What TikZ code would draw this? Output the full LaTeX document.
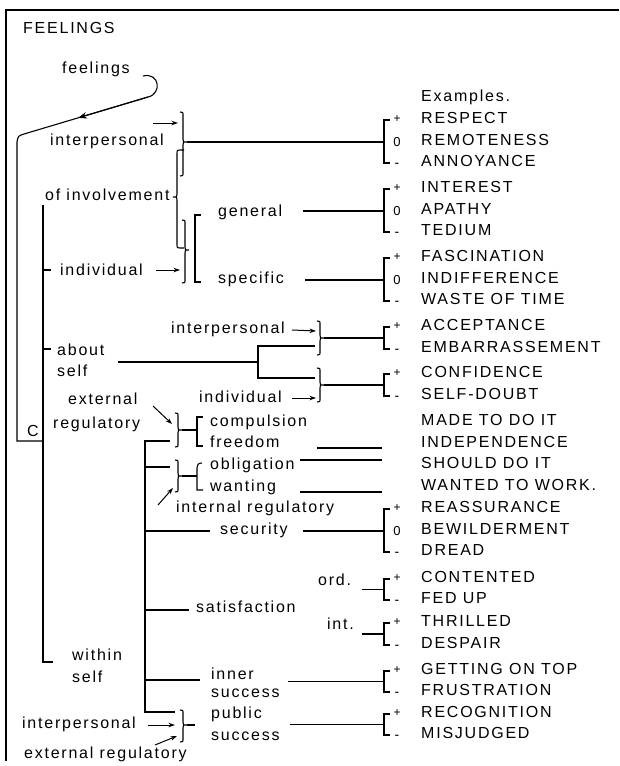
\documentclass[tikz,border=0pt]{standalone}
\usepackage{fontspec}
\setmainfont{Liberation Sans}[LetterSpace=11]
\usetikzlibrary{arrows.meta}

% right-facing curly brace: x, top, bottom, tip
\newcommand\BraceR[4]{%
  \draw[ln] ({#1-3},#2) .. controls (#1,#2) .. (#1,{#2+4}) -- (#1,{#4-3})
    .. controls (#1,#4) .. ({#1+4},#4) .. controls (#1,#4) .. (#1,{#4+3})
    -- (#1,{#3-4}) .. controls (#1,#3) .. ({#1-3},#3);}
% square bracket opening to the right: x, top, bottom
\newcommand\SqBr[3]{\draw[ln] ({#1+6},#2) -- (#1,#2) -- (#1,#3) -- ({#1+6},#3);}
% three-way example bracket (+ / 0 / -): name, row1, row2, row3
\newcommand\TriGrp[4]{%
  \draw[ln] (390,{#2+2}) -- (384,{#2+2}) -- (384,{#4+2}) -- (390,{#4+2});
  \coordinate (#1) at (384,{#3+2});
  \node[plus] (#1p) at (397,{#2+1}) {+};
  \node[sym] (#1o) at (397,{#3+2}) {0};
  \node[minus] (#1m) at (397,{#4+2}) {-};}
% two-way example bracket (+ / -): name, row1, row2
\newcommand\DuoGrp[3]{%
  \draw[ln] (390,{#2+2}) -- (384,{#2+2}) -- (384,{#3+2}) -- (390,{#3+2});
  \coordinate (#1) at (384,{(#2+#3)/2+2});
  \node[plus] (#1p) at (397,{#2+1}) {+};
  \node[minus] (#1m) at (397,{#3+2}) {-};}

\begin{document}
\begin{tikzpicture}[x=1pt,y=-1pt,
  ln/.style={line width=1.1pt},
  frame/.style={line width=1.5pt},
  arr/.style={line width=1pt,-{Stealth[length=6.5pt,width=4.5pt]}},
  bigarr/.style={line width=1.1pt,-{Stealth[length=9pt,width=6.5pt]}},
  txt/.style={inner sep=0pt,anchor=west,text height=11.4pt,text depth=0pt,
    font=\fontsize{16}{19}\selectfont},
  sym/.style={inner sep=0pt,font=\fontsize{13}{15}\selectfont},
  plus/.style={inner sep=0pt,font=\fontsize{12}{14}\selectfont},
  minus/.style={inner sep=0pt,font=\fontsize{14}{16}\selectfont,yshift=-2pt},
]
\useasboundingbox (0,0) rectangle (619,766);

% frame
\coordinate (fTL) at (6,10);
\coordinate (fTR) at (619,10);
\coordinate (fBL) at (6,761);
\draw[frame] (fTR) -- (fTL) -- (fBL);

\node[txt] (title) at (23,28) {FEELINGS};
\node[txt] (feel) at (62,68) {feelings};

% hook from "feelings" down to the main stem
\coordinate (h0) at (143,76);
\coordinate (h1) at (148,97);
\coordinate (hA) at (78,117.9);
\coordinate (c0) at (17,142);
\coordinate (cB) at (17,441);
\coordinate (cE) at (43,441);
\draw[ln] (h0) .. controls (160,72) and (162,94) .. (h1) -- (24,134)
  .. controls (18,136) .. (c0) -- (cB) -- (cE);
\draw[bigarr] (h1) -- (hA);
\node[txt] (cl) at (27,431) {C};

% second stem
\coordinate (v1t) at (43,205);
\coordinate (v1b) at (43,662);
\coordinate (v1e) at (53,662);
\draw[ln] (v1t) -- (v1b) -- (v1e);
\coordinate (t1) at (43,270);
\coordinate (t2) at (43,349);
\draw[ln] (t1) -- (51,270);
\draw[ln] (t2) -- (51,349);

% ---- of involvement
\node[txt] (ip1) at (50,140) {interpersonal};
\node[txt] (inv) at (45,195) {of involvement};
\node[txt] (ind1) at (60,270) {individual};
\node[txt] (gen) at (218,211) {general};
\node[txt] (spe) at (218,278) {specific};
\coordinate (a1s) at (153,123);
\coordinate (a1e) at (178,123);
\draw[arr] (a1s) -- (a1e);
\coordinate (a2s) at (156,270);
\coordinate (a2e) at (180,270);
\draw[arr] (a2s) -- (a2e);
\BraceR{183}{112}{176}{142}
\draw[ln] (184,150) -- (180,150) .. controls (177,150) .. (177,153) -- (177,194)
  .. controls (177,197) .. (173,197) .. controls (177,197) .. (177,200)
  -- (177,245) .. controls (177,248) .. (180,248) -- (184,248);
\BraceR{185}{220}{283}{250}
\SqBr{195}{215}{282}

% ---- about self
\node[txt] (ab) at (57,350) {about};
\node[txt] (sf1) at (57,371) {self};
\coordinate (as0) at (118,362);
\coordinate (as1) at (258,362);
\draw[ln] (as0) -- (as1);
\draw[ln] (315,346) -- (258,346) -- (258,378) -- (315,378);
\node[txt] (ip2) at (171,328) {interpersonal};
\node[txt] (ind2) at (199,397) {individual};
\coordinate (a3s) at (292,330);
\coordinate (a3e) at (316,331);
\draw[arr] (a3s) -- (a3e);
\coordinate (a4s) at (292,398);
\coordinate (a4e) at (316,398);
\draw[arr] (a4s) -- (a4e);
\BraceR{320}{321}{355}{338}
\BraceR{320}{368}{402}{385}

% ---- within self
\node[txt] (er1) at (68,399) {external};
\node[txt] (er2) at (53,423) {regulatory};
\coordinate (a5s) at (153,406);
\coordinate (a5e) at (172,424);
\draw[arr] (a5s) -- (a5e);
\BraceR{178}{413}{447}{430}
\draw[ln] (182,430) -- (197,430);
\SqBr{197}{417}{446}
\node[txt] (comp) at (210,421) {compulsion};
\node[txt] (free) at (210,442) {freedom};

\coordinate (w0) at (145,441);
\coordinate (w1) at (145,712);
\draw[ln] (170,441) -- (w0) -- (w1) -- (175,712);
\draw[ln] (145,467) -- (170,467);
\BraceR{178}{460}{492}{476}
\draw[ln] (182,476) -- (197,476);
\draw[ln] (202,463) .. controls (198,463) and (197,465) .. (197,468) -- (197,490) -- (203,490);
\node[txt] (obl) at (210,464) {obligation};
\node[txt] (want) at (210,486) {wanting};
\coordinate (a6s) at (158,505);
\coordinate (a6e) at (173,488);
\draw[arr] (a6s) -- (a6e);
\node[txt] (intreg) at (176,507) {internal regulatory};

\draw[ln] (317,448) -- (382,448);
\draw[ln] (300,460) -- (382,460);
\draw[ln] (300,492) -- (382,492);

\draw[ln] (145,531) -- (210,531);
\node[txt] (sec) at (220,529) {security};
\draw[ln] (145,610) -- (189,610);
\node[txt] (sat) at (196,607) {satisfaction};
\node[txt] (ord) at (318,580) {ord.};
\node[txt] (intl) at (327,624) {int.};
\draw[ln] (145,680) -- (200,680);
\node[txt] (inn) at (211,674) {inner};
\node[txt] (suc1) at (211,692) {success};
\node[txt] (pub) at (211,713) {public};
\node[txt] (suc2) at (211,735) {success};
\BraceR{183}{710}{742}{725}
\draw[ln] (187,725) -- (195,725);
\node[txt] (ip3) at (22,723) {interpersonal};
\coordinate (a7s) at (148,725);
\coordinate (a7e) at (175,725);
\draw[arr] (a7s) -- (a7e);
\node[txt] (er3) at (24,753) {external regulatory};
\coordinate (a8s) at (155,745);
\coordinate (a8e) at (177,736);
\draw[arr] (a8s) -- (a8e);
\node[txt] (win) at (72,655) {within};
\node[txt] (sf2) at (72,677) {self};

% ---- examples column
\node[txt] (exh) at (421,96) {Examples.};
\foreach \t/\y [count=\i] in {RESPECT/118,REMOTENESS/140,ANNOYANCE/161,
  INTEREST/187,APATHY/209,TEDIUM/230,FASCINATION/256,INDIFFERENCE/278,
  WASTE OF TIME/299,ACCEPTANCE/325,EMBARRASSEMENT/347,CONFIDENCE/372,
  SELF-DOUBT/394,MADE TO DO IT/420,INDEPENDENCE/442,SHOULD DO IT/463,
  WANTED TO WORK./485,REASSURANCE/507,BEWILDERMENT/529,DREAD/550,
  CONTENTED/577,FED UP/598,THRILLED/621,DESPAIR/643,GETTING ON TOP/669,
  FRUSTRATION/690,RECOGNITION/712,MISJUDGED/733}
  \node[txt] (ex\i) at (421,\y) {\t};

\TriGrp{g1}{118}{140}{161}
\TriGrp{g2}{187}{209}{230}
\TriGrp{g3}{256}{278}{299}
\DuoGrp{g4}{325}{347}
\DuoGrp{g5}{372}{394}
\TriGrp{g6}{507}{529}{550}
\DuoGrp{g7}{577}{598}
\DuoGrp{g8}{621}{643}
\DuoGrp{g9}{669}{690}
\DuoGrp{g10}{712}{733}

% connectors into the example brackets
\coordinate (b1) at (187,142);
\draw[ln] (b1) -- (g1);
\coordinate (b2) at (303,211);
\draw[ln] (b2) -- (g2);
\coordinate (b3) at (305,280);
\draw[ln] (b3) -- (g3);
\coordinate (b4) at (324,338);
\draw[ln] (b4) -- (g4);
\coordinate (b5) at (324,385);
\draw[ln] (b5) -- (g5);
\coordinate (b6) at (303,531);
\draw[ln] (b6) -- (g6);
\coordinate (b7) at (362,589.5);
\draw[ln] (b7) -- (g7);
\coordinate (b8) at (362,634);
\draw[ln] (b8) -- (g8);
\coordinate (b9) at (288,681.5);
\draw[ln] (b9) -- (g9);
\coordinate (b10) at (290,724.5);
\draw[ln] (b10) -- (g10);
\end{tikzpicture}
\end{document}
